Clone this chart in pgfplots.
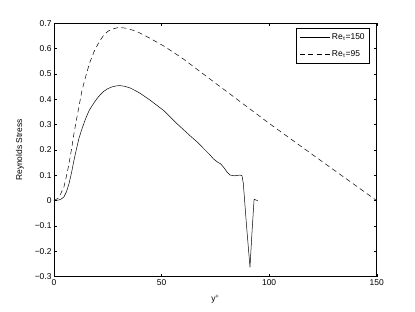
\documentclass[border=0pt]{standalone}
\usepackage{pgfplots}
\pgfplotsset{compat=1.18}
\usepackage{fontspec}
\setmainfont{Liberation Sans}
\begin{document}
\begin{tikzpicture}
\begin{axis}[
  scale only axis,
  width=322.7bp, height=253.3bp,
  xmin=0, xmax=150, ymin=-0.3, ymax=0.7,
  xtick={0,50,100,150},
  ytick={-0.3,-0.2,-0.1,0,0.1,0.2,0.3,0.4,0.5,0.6,0.7},
  yticklabels={−0.3,−0.2,−0.1,0,0.1,0.2,0.3,0.4,0.5,0.6,0.7},
  /pgf/number format/assume math mode=true,
  tick align=inside,
  major tick length=3bp,
  ticklabel style={font=\fontsize{8.5}{9}\selectfont},
  xticklabel style={yshift=1bp},
  yticklabel style={xshift=1bp},
  label style={font=\fontsize{8.5}{9}\selectfont},
  xlabel={y\textsuperscript{+}},
  ylabel={Reynolds Stress},
  xlabel style={yshift=-3bp},
  ylabel style={yshift=4bp},
  axis line style={line width=0.5pt},
  every tick/.style={black, line width=0.4pt},
  legend style={at={(rel axis cs:0.979,0.983)}, anchor=north east,
    font=\fontsize{8.5}{9}\selectfont, draw=black, line width=0.5pt,
    inner xsep=3bp, inner ysep=4bp, row sep=5bp},
  legend cell align=left,
  legend image code/.code={\draw[#1] (0cm,0cm) -- (30bp,0cm);},
]
\addplot[black, line width=0.5pt] coordinates {
(0,0) (2,0.002) (3.3,0.006) (4.65,0.015) (5.8,0.035) (7,0.068) (8.2,0.112) (9.3,0.16) (10.5,0.206) (11.6,0.246) (12.8,0.278) (13.9,0.305) (15,0.33) (16.3,0.355) (17.5,0.372) (18.6,0.386) (20,0.403) (21.5,0.418) (23.2,0.432) (25,0.442) (27,0.449) (29,0.453) (30.5,0.454) (32.5,0.452) (35,0.446) (37.2,0.437) (40,0.424) (44.6,0.397) (51.1,0.355) (57,0.305) (63,0.258) (67,0.228) (69.4,0.207) (72,0.185) (74.1,0.165) (76,0.152) (77.5,0.145) (79,0.13) (80.5,0.112) (81.8,0.101) (84,0.098) (86.5,0.101) (87.4,0.098) (88,0.068) (89.5,-0.1) (91.1,-0.263) (92,-0.13) (93,0.005) (94.7,0.0)
};
\addlegendentry{Re\textsubscript{τ}=150}
\addplot[black, line width=0.5pt, dash pattern=on 5bp off 3.5bp] coordinates {
(0,0) (2,0.01) (3,0.025) (4.65,0.055) (5.8,0.097) (7,0.147) (8.2,0.206) (9.3,0.266) (10.5,0.322) (11.6,0.371) (13,0.435) (14.7,0.489) (16.5,0.542) (18.6,0.588) (21,0.627) (23.2,0.654) (25,0.668) (27,0.677) (30.2,0.684) (34,0.68) (38.7,0.667) (44.6,0.641) (51.1,0.61) (60,0.56) (75,0.464) (100,0.305) (125,0.152) (150,0)
};
\addlegendentry{Re\textsubscript{τ}=95}
\end{axis}
\path (current axis.south west) ++(-54bp,-35.3bp) (current axis.north east) ++(38.3bp,23.3bp);
\end{tikzpicture}
\end{document}
